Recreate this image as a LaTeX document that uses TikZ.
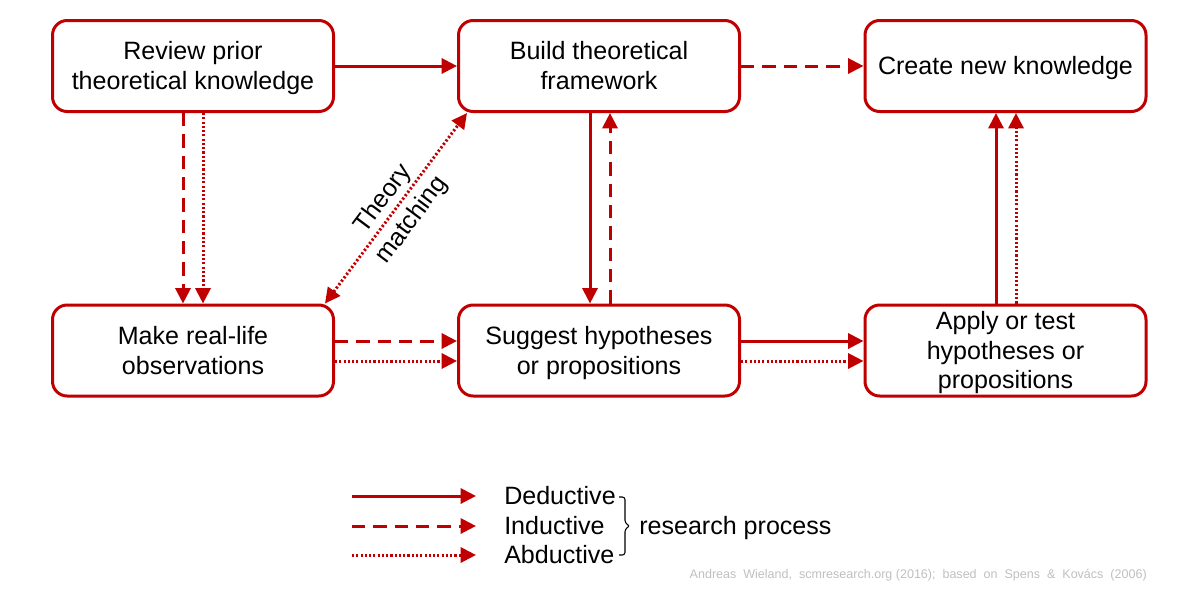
\documentclass[tikz,border=0pt]{standalone}
\usepackage{fontspec}
\setmainfont{Liberation Sans}
\usetikzlibrary{arrows.meta,calc}
\definecolor{dred}{HTML}{C00000}
\definecolor{credgray}{HTML}{BFBFBF}
\newcommand{\topstrut}{\rule{0pt}{0.905em}}
\newcommand{\botstrut}{\rule[-0.212em]{0pt}{0.212em}}
\begin{document}
\begin{tikzpicture}[x=0.75pt,y=-0.75pt,
  txt/.style={font=\fontsize{18.8}{22.3}\selectfont},
  strutted/.style={execute at begin node=\topstrut, execute at end node=\botstrut},
  box/.style={txt, draw=dred, line width=2.25pt, rounded corners=11pt, minimum width=210.75pt, minimum height=68.25pt, align=center, inner sep=0pt},
  conn/.style={draw=dred, line width=2.25pt, -{Triangle[length=11.5pt,width=11.25pt]}},
  ded/.style={conn},
  ind/.style={conn, dash pattern=on 10pt off 6pt},
  abd/.style={conn, dash pattern=on 1.6pt off 1.6pt},
  bi/.style={abd, {Triangle[length=11.5pt,width=11.25pt]}-{Triangle[length=11.5pt,width=11.25pt]}},
]
\useasboundingbox (0,0) rectangle (1200,600);
\node[box] (review)  at (193,66)     {\topstrut Review prior\\theoretical knowledge\botstrut};
\node[box] (build)   at (599,66)     {\topstrut Build theoretical\\framework\botstrut};
\node[box] (create)  at (1005.5,66)  {\topstrut Create new knowledge\botstrut};
\node[box] (make)    at (193,350.5)  {\topstrut Make real-life\\observations\botstrut};
\node[box] (suggest) at (599,350.5)  {\topstrut Suggest hypotheses\\or propositions\botstrut};
\node[box] (apply)   at (1005.5,350.5) {\topstrut Apply or test\\hypotheses or\\propositions\botstrut};

\draw[ded] (review.east) -- (build.west);
\draw[ind] (build.east) -- (create.west);
\draw[ind] ($(review.south)+(-10,0)$) -- ($(make.north)+(-10,0)$);
\draw[abd] ($(review.south)+(10,0)$) -- ($(make.north)+(10,0)$);
\draw[ded] ($(build.south)+(-9,0)$) -- ($(suggest.north)+(-9,0)$);
\draw[ind] ($(suggest.north)+(11,0)$) -- ($(build.south)+(11,0)$);
\draw[ind] ($(make.east)+(0,-9.5)$) -- ($(suggest.west)+(0,-9.5)$);
\draw[abd] ($(make.east)+(0,10.5)$) -- ($(suggest.west)+(0,10.5)$);
\draw[ded] ($(suggest.east)+(0,-9.5)$) -- ($(apply.west)+(0,-9.5)$);
\draw[abd] ($(suggest.east)+(0,10.5)$) -- ($(apply.west)+(0,10.5)$);
\draw[ded] ($(apply.north)+(-9.5,0)$) -- ($(create.south)+(-9.5,0)$);
\draw[abd] ($(apply.north)+(10.5,0)$) -- ($(create.south)+(10.5,0)$);
\draw[bi] ($(make.north east)+(-10,0)$) -- node[font=\fontsize{18.8}{26.5}\selectfont, sloped, align=center, inner sep=0pt] (tm) {\topstrut Theory\\matching\botstrut} ($(build.south west)+(10,0)$);

% legend
\coordinate (l1s) at (352,496); \coordinate (l1e) at (476,496);
\coordinate (l2s) at (352,526); \coordinate (l2e) at (476,526);
\coordinate (l3s) at (352,555); \coordinate (l3e) at (476,555);
\draw[ded] (l1s) -- (l1e);
\draw[ind] (l2s) -- (l2e);
\draw[abd] (l3s) -- (l3e);
\node[txt, strutted, anchor=west, inner sep=0pt] (ded) at (504,496) {Deductive};
\node[txt, strutted, anchor=west, inner sep=0pt] (ind) at (504,526) {Inductive};
\node[txt, strutted, anchor=west, inner sep=0pt] (abd) at (504,555) {Abductive};
\coordinate (bt) at (619,497); \coordinate (bm) at (630,526); \coordinate (bb) at (619,555);
\draw[black, line width=0.8pt, rounded corners=2pt] (bt) -- (bt -| 625,0) -- ($(bm)+(-5,-3)$) -- (bm) -- ($(bm)+(-5,3)$) -- (bb -| 625,0) -- (bb);
\node[txt, strutted, anchor=west, inner sep=0pt] (rp) at (639,526) {research process};
\node[anchor=east, inner sep=0pt, text=credgray, font=\fontsize{9.4}{11}\selectfont] (cred) at (1147,575) {Andreas\ \ Wieland,\ \ scmresearch.org (2016);\ \ based\ \ on\ \ Spens\ \ \&\ \ Kovács\ \ (2006)};
\end{tikzpicture}
\end{document}
